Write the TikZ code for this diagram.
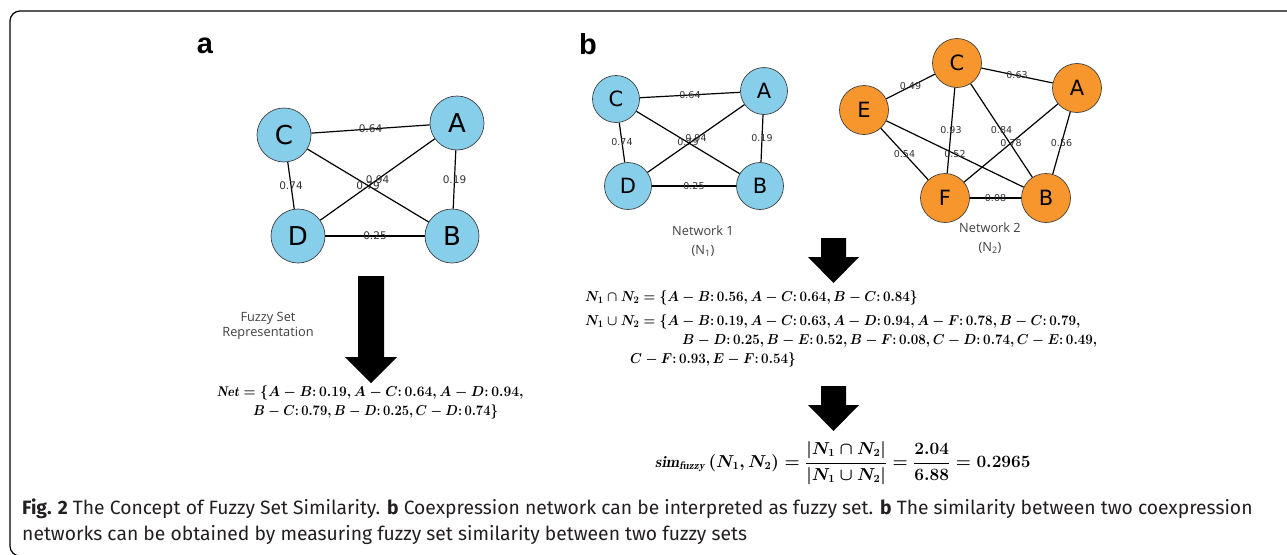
\documentclass[tikz,border=0pt]{standalone}
\usepackage{amsmath}
\usepackage{graphicx}
\usepackage{fontspec}
\newfontfamily\lblfont{DejaVu Sans}
\newfontfamily\uifont{Open Sans}
\newfontfamily\capfont{Fira Sans}
\newfontfamily\hdfont{Liberation Sans}
\definecolor{skyb}{HTML}{87CEEB}
\definecolor{orng}{HTML}{F7962C}
\definecolor{uigray}{HTML}{404040}
\definecolor{capgray}{HTML}{231F20}
\newcommand{\edgepair}[3]{#1-#2{:}\,#3}
\begin{document}
\begin{tikzpicture}[x=1pt,y=-1pt,
  vtx/.style={circle,draw=black!75,line width=0.7pt,inner sep=0pt},
  vA/.style={vtx,fill=skyb,minimum size=54pt,font=\lblfont\fontsize{26}{26}\selectfont},
  vB/.style={vtx,fill=skyb,minimum size=47pt,font=\lblfont\fontsize{21}{21}\selectfont},
  vC/.style={vtx,fill=orng,minimum size=49pt,font=\lblfont\fontsize{21}{21}\selectfont},
  edge/.style={draw=black,line width=1.2pt},
  elabA/.style={inner sep=0pt,text=black!80,font=\lblfont\fontsize{10.5}{10.5}\selectfont},
  elabB/.style={inner sep=0pt,text=black!80,font=\lblfont\fontsize{9.5}{9.5}\selectfont},
  bigarrow/.style={fill=black,draw=none},
  hd/.style={inner sep=0pt,font=\hdfont\bfseries\fontsize{29}{29}\selectfont},
  ui/.style={inner sep=0pt,align=center,text=uigray,font=\uifont\fontsize{12.8}{15.5}\selectfont},
  uinet/.style={inner sep=0pt,align=center,text=uigray,font=\uifont\fontsize{12.8}{19}\selectfont},
  fml/.style={inner sep=0pt,anchor=west,font=\fontsize{14}{14}\selectfont\boldmath},
  simf/.style={inner sep=0pt,anchor=west,font=\fontsize{16}{16}\selectfont\boldmath},
  captext/.style={inner sep=0pt,anchor=west,text=capgray,font=\capfont\fontsize{19.3}{19.3}\selectfont}
]
\useasboundingbox (0,0) rectangle (1287,554);
\clip (0,0) rectangle (1287,554);
% frame
\draw[line width=1.2pt,rounded corners=10pt] (1300,11) -- (10,11) -- (10,556) -- (1300,556);

% headings
\node[hd] (ha) at (205,46) {a};
\node[hd] (hb) at (588,44) {b};

% ---- panel a network
\node[vA] (aC) at (284,135) {C};
\node[vA] (aA) at (457,123) {A};
\node[vA] (aD) at (298,236) {D};
\node[vA] (aB) at (452,236) {B};
\draw[edge] (aC) -- node[elabA]{0.64} (aA);
\draw[edge] (aC) -- node[elabA]{0.74} (aD);
\draw[edge] (aC) -- node[elabA]{0.79} (aB);
\draw[edge] (aA) -- node[elabA]{0.94} (aD);
\draw[edge] (aA) -- node[elabA]{0.19} (aB);
\draw[edge] (aD) -- node[elabA]{0.25} (aB);

% panel a arrow
\fill[bigarrow] (358,276) -- (384,276) -- (384,357) -- (397,357) -- (371,383) -- (345,357) -- (358,357) -- cycle;
\node[ui] (fsr) at (268,326) {Fuzzy Set\\Representation};

\node[fml] (net1) at (217,393) {\scalebox{0.96}[1]{$\mathit{Net}=\{\edgepair{A}{B}{0.19}, \edgepair{A}{C}{0.64}, \edgepair{A}{D}{0.94},$}};
\node[fml] (net2) at (253,412) {\scalebox{0.9}[1]{$\edgepair{B}{C}{0.79}, \edgepair{B}{D}{0.25}, \edgepair{C}{D}{0.74}\}$}};

% ---- network 1
\node[vB] (bC) at (616,99) {C};
\node[vB] (bA) at (764,91) {A};
\node[vB] (bD) at (628,186) {D};
\node[vB] (bB) at (760,186) {B};
\draw[edge] (bC) -- node[elabB]{0.64} (bA);
\draw[edge] (bC) -- node[elabB]{0.74} (bD);
\draw[edge] (bC) -- node[elabB]{0.79} (bB);
\draw[edge] (bA) -- node[elabB]{0.94} (bD);
\draw[edge] (bA) -- node[elabB]{0.19} (bB);
\draw[edge] (bD) -- node[elabB]{0.25} (bB);
\node[uinet] (n1) at (703,241) {Network 1\\(N\textsubscript{1})};

% ---- network 2
\node[vC] (cC) at (957,63) {C};
\node[vC] (cA) at (1077,88) {A};
\node[vC] (cE) at (864,110) {E};
\node[vC] (cF) at (945,198) {F};
\node[vC] (cB) at (1046,198) {B};
\draw[edge] (cE) -- node[elabB]{0.49} (cC);
\draw[edge] (cC) -- node[elabB]{0.63} (cA);
\draw[edge] (cC) -- node[elabB]{0.93} (cF);
\draw[edge] (cC) -- node[elabB]{0.84} (cB);
\draw[edge] (cA) -- node[elabB]{0.78} (cF);
\draw[edge] (cA) -- node[elabB]{0.56} (cB);
\draw[edge] (cE) -- node[elabB]{0.54} (cF);
\draw[edge] (cE) -- node[elabB]{0.52} (cB);
\draw[edge] (cF) -- node[elabB]{0.08} (cB);
\node[uinet] (n2) at (990,238) {Network 2\\(N\textsubscript{2})};

% panel b arrows
\fill[bigarrow] (821,238) -- (846,238) -- (846,257) -- (859,257) -- (833.5,283) -- (808,257) -- (821,257) -- cycle;
\fill[bigarrow] (821,386) -- (846,386) -- (846,405) -- (859,405) -- (833.5,431) -- (808,405) -- (821,405) -- cycle;

\node[fml] (inter) at (585,298) {\scalebox{0.93}[1]{$N_1\cap N_2=\{\edgepair{A}{B}{0.56}, \edgepair{A}{C}{0.64}, \edgepair{B}{C}{0.84}\}$}};
\node[fml] (uni1) at (585,322) {\scalebox{0.93}[1]{$N_1\cup N_2=\{\edgepair{A}{B}{0.19}, \edgepair{A}{C}{0.63}, \edgepair{A}{D}{0.94}, \edgepair{A}{F}{0.78}, \edgepair{B}{C}{0.79},$}};
\node[fml] (uni2) at (682,341) {\scalebox{0.93}[1]{$\edgepair{B}{D}{0.25}, \edgepair{B}{E}{0.52}, \edgepair{B}{F}{0.08}, \edgepair{C}{D}{0.74}, \edgepair{C}{E}{0.49},$}};
\node[fml] (uni3) at (630,360) {\scalebox{0.93}[1]{$\edgepair{C}{F}{0.93}, \edgepair{E}{F}{0.54}\}$}};

\node[simf] (sim) at (655,463) {$\displaystyle \mathit{sim}_{\mathit{fuzzy}}\,(N_1,N_2)=\frac{|N_1\cap N_2|}{|N_1\cup N_2|}=\frac{2.04}{6.88}=0.2965$};

% caption
\node[captext] (cap1) at (22,509) {\textbf{Fig. 2} The Concept of Fuzzy Set Similarity. \textbf{b} Coexpression network can be interpreted as fuzzy set. \textbf{b} The similarity between two coexpression};
\node[captext] (cap2) at (22,535) {networks can be obtained by measuring fuzzy set similarity between two fuzzy sets};
\end{tikzpicture}
\end{document}
